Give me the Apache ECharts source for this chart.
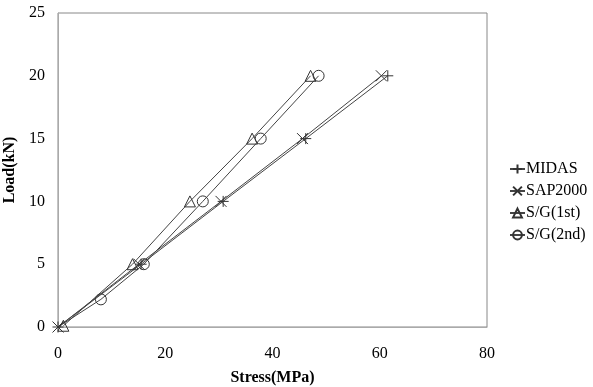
<!DOCTYPE html>
<html>
<head>
<meta charset="utf-8">
<script src="https://cdn.jsdelivr.net/npm/echarts@6/dist/echarts.min.js"></script>
<style>
  html, body { margin: 0; padding: 0; background: #fff; }
  #chart { width: 593px; height: 387px; }
</style>
</head>
<body>
<div id="chart"></div>
<script>
// data: [stress MPa, load kN]
const seriesNames = ['MIDAS', 'SAP2000', 'S/G(1st)', 'S/G(2nd)'];
const midas = [[0, 0], [15.5, 5], [30.8, 10], [46.2, 15], [61.5, 20]];
const sap2000 = [[0, 0], [15.1, 5], [30.4, 10], [45.6, 15], [60.3, 20]];
const sg1 = [[1, 0.1], [13.9, 5], [24.6, 10], [36.2, 15], [47.1, 20]];
const sg2 = [[0, 0], [8, 2.2], [16, 5], [27, 10], [37.8, 15], [48.6, 20]];
const xTicks = [0, 20, 40, 60, 80];
const yTicks = [0, 5, 10, 15, 20, 25];

const serif = '"Liberation Serif", "DejaVu Serif", serif';
const plus = 'path://M0,5L10,5M5,0L5,10';
const cross = 'path://M0,0L10,10M0,10L10,0';

function line(name, data, symbol, size) {
  return {
    name: name,
    type: 'line',
    data: data,
    symbol: symbol,
    symbolSize: size,
    showAllSymbol: true,
    lineStyle: { color: '#444', width: 1 },
    itemStyle: { color: 'transparent', borderColor: '#333', borderWidth: 1 },
    emphasis: { disabled: true },
    z: 2
  };
}

// the gauge series has no marker drawn at the origin
const sg2Series = line('S/G(2nd)', sg2.map((d, i) => i === 0 ? { value: d, symbol: 'none' } : d), 'circle', 11);

const myChart = echarts.init(document.getElementById('chart'));
myChart.setOption({
  animation: false,
  grid: {
    left: 58, right: 106, top: 13, bottom: 60,
    outerBoundsMode: 'none',
    show: true, borderColor: '#888', borderWidth: 1
  },
  legend: {
    orient: 'vertical',
    left: 504, top: 156,
    itemGap: 6,
    itemWidth: 15,
    itemHeight: 11,
    data: seriesNames,
    textStyle: { fontFamily: serif, fontSize: 16, color: '#000', padding: [0, 0, 0, -4] }
  },
  xAxis: {
    type: 'value',
    min: 0, max: 80, interval: 20,
    name: 'Stress(MPa)',
    nameLocation: 'middle',
    nameGap: 43,
    nameTextStyle: { fontFamily: serif, fontSize: 16, fontWeight: 'bold', color: '#000' },
    axisLine: { show: true, lineStyle: { color: '#aaa' } },
    axisTick: { show: false },
    splitLine: { show: false },
    axisLabel: {
      fontFamily: serif, fontSize: 16, color: '#000', margin: 19,
      customValues: xTicks
    }
  },
  yAxis: {
    type: 'value',
    min: 0, max: 25, interval: 5,
    name: 'Load(kN)',
    nameLocation: 'middle',
    nameGap: 40,
    nameRotate: 90,
    nameTextStyle: { fontFamily: serif, fontSize: 16, fontWeight: 'bold', color: '#000' },
    axisLine: { show: true, lineStyle: { color: '#aaa' } },
    axisTick: { show: false },
    splitLine: { show: false },
    axisLabel: {
      fontFamily: serif, fontSize: 16, color: '#000', margin: 13,
      customValues: yTicks
    }
  },
  series: [
    line('MIDAS', midas, plus, 11),
    line('SAP2000', sap2000, cross, 11),
    line('S/G(1st)', sg1, 'triangle', 11),
    sg2Series
  ]
});
</script>
</body>
</html>
